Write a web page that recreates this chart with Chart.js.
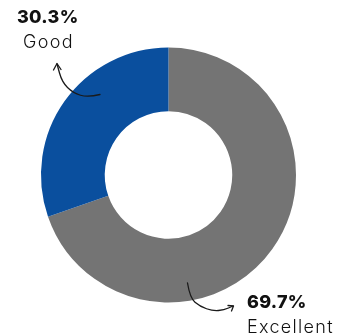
<!DOCTYPE html>
<html>
<head>
<meta charset="utf-8">
<script src="https://cdn.jsdelivr.net/npm/chart.js@4/dist/chart.umd.min.js"></script>
<style>
  html, body { margin: 0; padding: 0; background: #fff; }
  #wrap { width: 340px; height: 335px; position: relative; }
</style>
</head>
<body>
<div id="wrap"><canvas id="ratingChart"></canvas></div>
<script>
const labels = ["Excellent", "Good"];
const shares = [69.7, 30.3];
const sliceColors = ["#747474", "#0a4f9e"];

// where each callout sits: text anchor + hand-drawn arrow path
const callouts = {
  Good: {
    x: 17, y: 23, nameX: 23,
    path: [[100, 94.5], [88, 97.5], [73, 93], [62, 82], [57, 64]],
    head: [[53.5, 70], [57, 63.5], [61, 69.5]],
  },
  Excellent: {
    x: 247, y: 308, nameX: 247,
    path: [[187.5, 283], [190, 298], [200, 306.5], [213, 311], [224, 310], [233, 306]],
    head: [[228, 305.5], [233.5, 306], [231.5, 311]],
  },
};

function drawCurve(ctx, pts) {
  ctx.beginPath();
  ctx.moveTo(pts[0][0], pts[0][1]);
  for (let i = 1; i < pts.length - 1; i++) {
    const mx = (pts[i][0] + pts[i + 1][0]) / 2;
    const my = (pts[i][1] + pts[i + 1][1]) / 2;
    ctx.quadraticCurveTo(pts[i][0], pts[i][1], mx, my);
  }
  const last = pts[pts.length - 1];
  ctx.lineTo(last[0], last[1]);
  ctx.stroke();
}

const calloutPlugin = {
  id: "callouts",
  afterDraw(chart) {
    const ctx = chart.ctx;
    ctx.save();
    ctx.strokeStyle = "#1a1a1a";
    ctx.fillStyle = "#111";
    ctx.lineWidth = 1.3;
    ctx.lineCap = "round";
    ctx.lineJoin = "round";
    ctx.textAlign = "left";
    ctx.textBaseline = "alphabetic";
    labels.forEach((name, i) => {
      const c = callouts[name];
      if (!c) return;
      ctx.font = "800 18px Inter";
      ctx.letterSpacing = "0.3px";
      ctx.fillText(shares[i].toFixed(1) + "%", c.x, c.y);
      ctx.font = "300 18px Inter";
      ctx.letterSpacing = "1.3px";
      ctx.fillText(name, c.nameX, c.y + 24.5);
      drawCurve(ctx, c.path);
      ctx.beginPath();
      ctx.moveTo(c.head[0][0], c.head[0][1]);
      ctx.lineTo(c.head[1][0], c.head[1][1]);
      ctx.lineTo(c.head[2][0], c.head[2][1]);
      ctx.stroke();
    });
    ctx.restore();
  },
};

new Chart(document.getElementById("ratingChart"), {
  type: "doughnut",
  data: {
    labels: labels,
    datasets: [
      {
        data: shares,
        backgroundColor: sliceColors,
        borderWidth: 0,
        hoverOffset: 0,
      },
    ],
  },
  options: {
    responsive: true,
    maintainAspectRatio: false,
    animation: false,
    cutout: "50%",
    layout: { padding: { left: 41, right: 44, top: 47, bottom: 32 } },
    plugins: {
      legend: { display: false },
      tooltip: { enabled: false },
    },
  },
  plugins: [calloutPlugin],
});
</script>
</body>
</html>
